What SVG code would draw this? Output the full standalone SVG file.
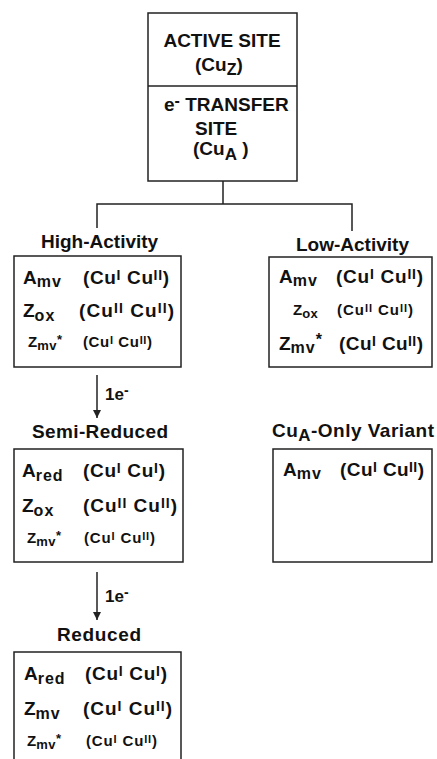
<svg xmlns="http://www.w3.org/2000/svg" width="437" height="759" viewBox="0 0 437 759">
<defs>
<style>
text{font-family:"Liberation Sans",Arial,Helvetica,sans-serif;font-weight:bold;fill:#111}
.box{fill:none;stroke:#222;stroke-width:1.5}
.ln{fill:none;stroke:#222;stroke-width:1.5}
.h{font-size:19px}
.L{font-size:19px}
.S{font-size:15px}
.sb{font-size:16px;letter-spacing:1px}
.ssb{font-size:13px;letter-spacing:0.5px}
.sp{font-size:14px}
.ssp{font-size:11px}
.e{font-size:17px}
.em{font-size:14px}
</style>
<marker id="ah" viewBox="0 0 8 12" refX="8" refY="6" markerWidth="8" markerHeight="12" markerUnits="userSpaceOnUse" orient="auto">
<path d="M0,2 L8,6 L0,10 Z" fill="#222"/>
</marker>
</defs>
<rect width="437" height="759" fill="#fff"/>

<g id="connectors">
<path class="ln" d="M223,181 V204 M97,228 V204 H352 V231"/>
<path class="ln" d="M97,375 V418" marker-end="url(#ah)"/>
<path class="ln" d="M97,572 V620" marker-end="url(#ah)"/>
<text class="e" x="105" y="400">1e<tspan class="em" dy="-5">-</tspan></text>
<text class="e" x="105" y="602">1e<tspan class="em" dy="-5">-</tspan></text>
</g>

<g id="sites">
<rect class="box" x="148" y="13" width="149" height="168"/>
<line class="ln" x1="148" y1="86" x2="297" y2="86"/>
<text class="h" x="222" y="47" text-anchor="middle">ACTIVE SITE</text>
<text class="h" x="195" y="71">(Cu<tspan font-size="16" dy="4">Z</tspan><tspan dy="-4">)</tspan></text>
<text class="h" x="164" y="111">e<tspan font-size="16" dy="-5">-</tspan><tspan dy="5"> TRANSFER</tspan></text>
<text class="h" x="195" y="135">SITE</text>
<text class="h" x="193" y="155">(Cu<tspan font-size="17" dy="5">A</tspan><tspan dy="-5"> )</tspan></text>
</g>

<g id="high-activity">
<text class="h" x="41" y="248">High-Activity</text>
<rect class="box" x="14" y="256" width="167" height="111"/>
<text class="L" x="23" y="284">A<tspan class="sb" dy="3">mv</tspan></text>
<text class="L" x="83" y="284" textLength="86" lengthAdjust="spacing">(Cu<tspan class="sp" dy="-4">I</tspan><tspan dy="4"> Cu</tspan><tspan class="sp" dy="-4">II</tspan><tspan dy="4">)</tspan></text>
<text class="L" x="23" y="317">Z<tspan class="sb" dy="4">ox</tspan></text>
<text class="L" x="79" y="317" textLength="95" lengthAdjust="spacing">(Cu<tspan class="sp" dy="-4">II</tspan><tspan dy="4"> Cu</tspan><tspan class="sp" dy="-4">II</tspan><tspan dy="4">)</tspan></text>
<text class="S" x="28" y="347">Z<tspan class="ssb" dy="3">mv</tspan><tspan class="ssb" dy="-6">*</tspan></text>
<text class="S" x="83" y="347" textLength="69" lengthAdjust="spacing">(Cu<tspan class="ssp" dy="-3">I</tspan><tspan dy="3"> Cu</tspan><tspan class="ssp" dy="-3">II</tspan><tspan dy="3">)</tspan></text>
</g>

<g id="low-activity">
<text class="h" x="296" y="251">Low-Activity</text>
<rect class="box" x="269" y="257" width="163" height="110"/>
<text class="L" x="279" y="283">A<tspan class="sb" dy="3">mv</tspan></text>
<text class="L" x="336" y="283" textLength="87" lengthAdjust="spacing">(Cu<tspan class="sp" dy="-4">I</tspan><tspan dy="4"> Cu</tspan><tspan class="sp" dy="-4">II</tspan><tspan dy="4">)</tspan></text>
<text class="S" x="293" y="315">Z<tspan class="ssb" dy="3">ox</tspan></text>
<text class="S" x="337" y="315" textLength="76" lengthAdjust="spacing">(Cu<tspan class="ssp" dy="-3">II</tspan><tspan dy="3"> Cu</tspan><tspan class="ssp" dy="-3">II</tspan><tspan dy="3">)</tspan></text>
<text class="L" x="279" y="350">Z<tspan class="sb" dy="3">mv</tspan><tspan class="sb" dy="-8">*</tspan></text>
<text class="L" x="339" y="350" textLength="84" lengthAdjust="spacing">(Cu<tspan class="sp" dy="-4">I</tspan><tspan dy="4"> Cu</tspan><tspan class="sp" dy="-4">II</tspan><tspan dy="4">)</tspan></text>
</g>

<g id="semi-reduced">
<text class="h" x="32" y="438" textLength="136" lengthAdjust="spacing">Semi-Reduced</text>
<rect class="box" x="14" y="449" width="169" height="113"/>
<text class="L" x="22" y="477">A<tspan class="sb" dy="4">red</tspan></text>
<text class="L" x="83" y="477" textLength="82" lengthAdjust="spacing">(Cu<tspan class="sp" dy="-4">I</tspan><tspan dy="4"> Cu</tspan><tspan class="sp" dy="-4">I</tspan><tspan dy="4">)</tspan></text>
<text class="L" x="22" y="512">Z<tspan class="sb" dy="4">ox</tspan></text>
<text class="L" x="83" y="512" textLength="94" lengthAdjust="spacing">(Cu<tspan class="sp" dy="-4">II</tspan><tspan dy="4"> Cu</tspan><tspan class="sp" dy="-4">II</tspan><tspan dy="4">)</tspan></text>
<text class="S" x="27" y="543">Z<tspan class="ssb" dy="3">mv</tspan><tspan class="ssb" dy="-6">*</tspan></text>
<text class="S" x="84" y="543" textLength="71" lengthAdjust="spacing">(Cu<tspan class="ssp" dy="-3">I</tspan><tspan dy="3"> Cu</tspan><tspan class="ssp" dy="-3">II</tspan><tspan dy="3">)</tspan></text>
</g>

<g id="cua-only-variant">
<text class="h" x="272" y="437" textLength="162" lengthAdjust="spacing">Cu<tspan font-size="17" dy="4">A</tspan><tspan dy="-4">-Only Variant</tspan></text>
<rect class="box" x="273" y="449" width="159" height="113"/>
<text class="L" x="283" y="476">A<tspan class="sb" dy="3">mv</tspan></text>
<text class="L" x="340" y="476" textLength="84" lengthAdjust="spacing">(Cu<tspan class="sp" dy="-4">I</tspan><tspan dy="4"> Cu</tspan><tspan class="sp" dy="-4">II</tspan><tspan dy="4">)</tspan></text>
</g>

<g id="reduced">
<text class="h" x="57" y="641" textLength="84" lengthAdjust="spacing">Reduced</text>
<path class="box" d="M14,770 V652 H181 V770"/>
<text class="L" x="24" y="680">A<tspan class="sb" dy="4">red</tspan></text>
<text class="L" x="85" y="680" textLength="82" lengthAdjust="spacing">(Cu<tspan class="sp" dy="-4">I</tspan><tspan dy="4"> Cu</tspan><tspan class="sp" dy="-4">I</tspan><tspan dy="4">)</tspan></text>
<text class="L" x="24" y="715">Z<tspan class="sb" dy="4">mv</tspan></text>
<text class="L" x="83" y="715" textLength="89" lengthAdjust="spacing">(Cu<tspan class="sp" dy="-4">I</tspan><tspan dy="4"> Cu</tspan><tspan class="sp" dy="-4">II</tspan><tspan dy="4">)</tspan></text>
<text class="S" x="27" y="746">Z<tspan class="ssb" dy="3">mv</tspan><tspan class="ssb" dy="-6">*</tspan></text>
<text class="S" x="86" y="746" textLength="71" lengthAdjust="spacing">(Cu<tspan class="ssp" dy="-3">I</tspan><tspan dy="3"> Cu</tspan><tspan class="ssp" dy="-3">II</tspan><tspan dy="3">)</tspan></text>
</g>
</svg>
